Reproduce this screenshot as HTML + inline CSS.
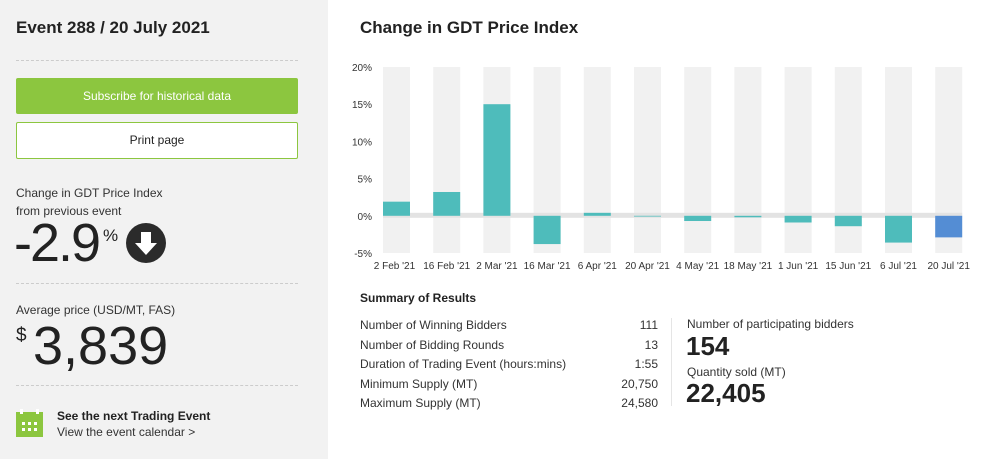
<!DOCTYPE html>
<html><head><meta charset="utf-8"><style>
*{margin:0;padding:0;box-sizing:border-box}
body{width:1000px;height:459px;overflow:hidden;background:#fff;font-family:"Liberation Sans",sans-serif;color:#222;position:relative}
.abs{position:absolute}
#left{left:0;top:0;width:328px;height:459px;background:#f2f2f2}
.dash{position:absolute;left:16px;width:282px;border-top:1px dashed #ccc}
.t{position:absolute;white-space:nowrap}
</style></head><body>
<div id="left" class="abs">
 <div class="t" style="left:16px;top:18px;font-size:17px;font-weight:bold;color:#222">Event 288 / 20 July 2021</div>
 <div class="dash" style="top:60px"></div>
 <div class="abs" style="left:16px;top:78px;width:282px;height:36px;background:#8cc63f;color:#fff;font-size:12px;text-align:center;line-height:36px;border-radius:2px">Subscribe for historical data</div>
 <div class="abs" style="left:16px;top:122px;width:282px;height:37px;background:#fff;border:1px solid #8cc63f;font-size:12px;text-align:center;line-height:35px;border-radius:2px">Print page</div>
 <div class="t" style="left:16px;top:184px;font-size:12px;line-height:18px;color:#333">Change in GDT Price Index<br>from previous event</div>
 <div class="t" style="left:14px;top:214px;font-size:54px;line-height:58px;letter-spacing:-2px">-2.9</div>
 <div class="t" style="left:103px;top:226px;font-size:17px">%</div>
 <svg class="abs" style="left:125px;top:222px" width="42" height="42"><circle cx="21" cy="21" r="20" fill="#2b2b2b"/><path d="M16 10h10v11h6l-11 12-11-12h6z" fill="#fff"/></svg>
 <div class="dash" style="top:283px"></div>
 <div class="t" style="left:16px;top:303px;font-size:12px;color:#333">Average price (USD/MT, FAS)</div>
 <div class="t" style="left:16px;top:325px;font-size:19px">$</div>
 <div class="t" style="left:33px;top:316px;font-size:54px;line-height:60px">3,839</div>
 <div class="dash" style="top:385px"></div>
 <svg class="abs" style="left:16px;top:409px" width="28" height="28"><rect x="0" y="3" width="27" height="25" fill="#8cc63f"/><g fill="#fff"><rect x="4" y="0" width="3" height="5"/><rect x="20" y="0" width="3" height="5"/><rect x="6" y="13" width="3" height="3"/><rect x="12" y="13" width="3" height="3"/><rect x="18" y="13" width="3" height="3"/><rect x="6" y="19" width="3" height="3"/><rect x="12" y="19" width="3" height="3"/><rect x="18" y="19" width="3" height="3"/></g></svg>
 <div class="t" style="left:57px;top:409px;font-size:12px;font-weight:bold">See the next Trading Event</div>
 <div class="t" style="left:57px;top:425px;font-size:12px;color:#333">View the event calendar &gt;</div>
</div>
<div class="t" style="left:360px;top:18px;font-size:17px;font-weight:bold;color:#222">Change in GDT Price Index</div>
<svg id="chart" class="abs" style="left:0;top:0" width="1000" height="280"></svg>
<div class="t" style="left:360px;top:291px;font-size:12px;font-weight:bold">Summary of Results</div>
<div class="abs" style="left:360px;top:316px;width:298px;font-size:12px;line-height:19.5px;color:#333">
 <div style="display:flex;justify-content:space-between"><span>Number of Winning Bidders</span><span>111</span></div>
 <div style="display:flex;justify-content:space-between"><span>Number of Bidding Rounds</span><span>13</span></div>
 <div style="display:flex;justify-content:space-between"><span>Duration of Trading Event (hours:mins)</span><span>1:55</span></div>
 <div style="display:flex;justify-content:space-between"><span>Minimum Supply (MT)</span><span>20,750</span></div>
 <div style="display:flex;justify-content:space-between"><span>Maximum Supply (MT)</span><span>24,580</span></div>
</div>
<div class="abs" style="left:671px;top:318px;width:1px;height:88px;background:#e5e5e5"></div>
<div class="t" style="left:687px;top:317px;font-size:12px;color:#333">Number of participating bidders</div>
<div class="t" style="left:686px;top:331px;font-size:26px;font-weight:bold">154</div>
<div class="t" style="left:687px;top:365px;font-size:12px;color:#333">Quantity sold (MT)</div>
<div class="t" style="left:686px;top:378px;font-size:26px;font-weight:bold">22,405</div>
<script>
const categories=["2 Feb '21","16 Feb '21","2 Mar '21","16 Mar '21","6 Apr '21","20 Apr '21","4 May '21","18 May '21","1 Jun '21","15 Jun '21","6 Jul '21","20 Jul '21"];
const values=[1.9,3.2,15.0,-3.8,0.4,-0.1,-0.7,-0.2,-0.9,-1.4,-3.6,-2.9];
const yTicks=[20,15,10,5,0,-5];
const NS="http://www.w3.org/2000/svg";
const svg=document.getElementById('chart');
const x0=383,step=50.2,bw=27,plotTop=67,plotBot=253;
const yMin=-5,yMax=20;
function yScale(v){return plotBot-(v-yMin)/(yMax-yMin)*(plotBot-plotTop);}
function xc(i){return x0+i*step;}
function mk(t,a){const e=document.createElementNS(NS,t);for(const k in a)e.setAttribute(k,a[k]);svg.appendChild(e);return e;}
categories.forEach((c,i)=>{
 const b=mk('rect',{x:xc(i),y:plotTop,width:bw,height:plotBot-plotTop,fill:'#f1f1f1'});
 
 
});
const z=mk('rect',{x:x0,y:yScale(0)-3,width:xc(11)+bw-x0,height:5,fill:'#e3e3e3'});


yTicks.forEach(t=>{
 const e=mk('text',{x:372,y:yScale(t)+4,'text-anchor':'end','font-size':'10','fill':'#333','font-family':'Liberation Sans, sans-serif'});
 e.textContent=t+'%';
 
 
});
values.forEach((v,i)=>{
 const last=i===values.length-1;
 const r=mk('rect',{x:xc(i),y:Math.min(yScale(v),yScale(0)),width:bw,height:Math.abs(yScale(v)-yScale(0)),fill:last?'#548dd4':'#4ebcbb'});
 
 
});
categories.forEach((c,i)=>{
 const e=mk('text',{x:xc(i)+bw/2+(i===0?-2:0),y:269,'text-anchor':'middle','font-size':'10','fill':'#333','font-family':'Liberation Sans, sans-serif'});
 e.textContent=c;
 
 
});
</script>
</body></html>
